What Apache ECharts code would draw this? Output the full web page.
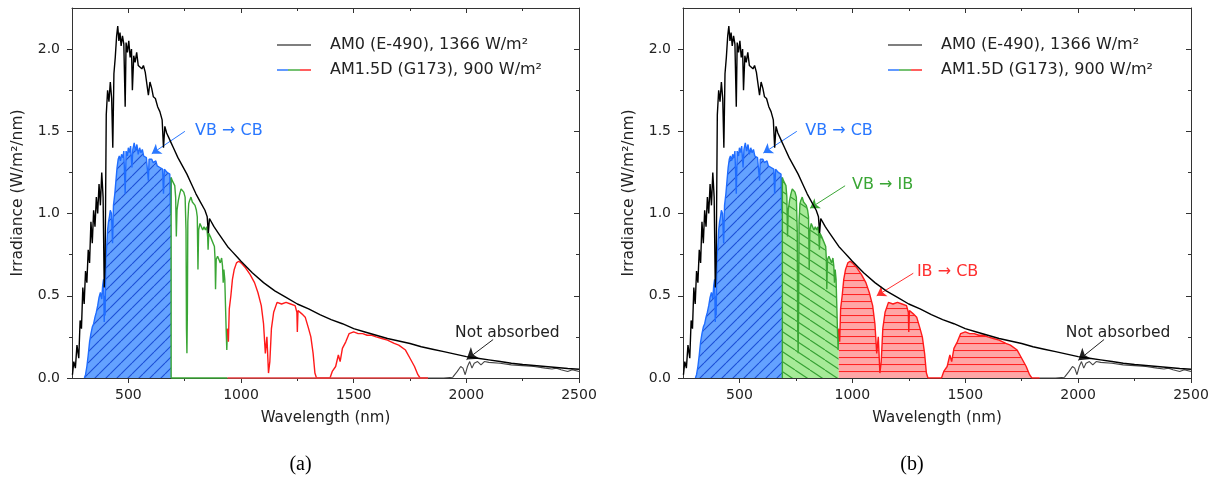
<!DOCTYPE html>
<html>
<head>
<meta charset="utf-8">
<script src="https://cdn.jsdelivr.net/npm/echarts@6/dist/echarts.min.js"></script>
<style>html,body{margin:0;padding:0;background:#fff;}#c{width:1222px;height:482px;}</style>
</head>
<body>
<div id="c"></div>
<script>
// ---- data (wavelength nm, irradiance W/m2/nm) ----
const am0 = [[252,0.02],[258,0.1],[265,0.06],[272,0.2],[280,0.12],[286,0.35],[292,0.3],[298,0.55],[304,0.45],[310,0.65],[316,0.58],[322,0.78],[328,0.7],[334,0.95],[340,0.82],[346,1.02],[352,0.92],[358,1.1],[364,1.0],[370,1.18],[376,1.05],[382,1.25],[388,1.1],[393,0.55],[397,0.7],[402,1.6],[408,1.75],[414,1.68],[420,1.8],[426,1.7],[431,1.4],[436,1.85],[442,1.95],[448,2.08],[453,2.14],[458,2.05],[463,2.1],[468,2.02],[474,2.08],[480,2.03],[486,1.65],[490,2.04],[496,1.98],[502,2.05],[508,1.95],[514,2.0],[518,1.75],[524,1.96],[530,1.92],[537,1.98],[544,1.9],[552,1.9],[560,1.88],[567,1.9],[575,1.86],[582,1.86],[589,1.72],[596,1.8],[604,1.76],[611,1.71],[620,1.7],[630,1.65],[640,1.62],[650,1.57],[656,1.4],[662,1.53],[670,1.49],[680,1.46],[690,1.43],[700,1.40],[720,1.34],[740,1.29],[760,1.24],[780,1.18],[800,1.12],[820,1.07],[840,1.02],[850,0.98],[855,0.88],[860,0.97],[880,0.92],[900,0.88],[920,0.84],[940,0.80],[960,0.77],[980,0.74],[1000,0.71],[1050,0.64],[1100,0.58],[1150,0.53],[1200,0.49],[1250,0.45],[1300,0.42],[1350,0.385],[1400,0.355],[1450,0.33],[1500,0.30],[1550,0.28],[1600,0.26],[1650,0.24],[1700,0.225],[1750,0.21],[1800,0.19],[1850,0.175],[1900,0.16],[1950,0.145],[2000,0.13],[2050,0.12],[2100,0.11],[2150,0.10],[2200,0.09],[2250,0.082],[2300,0.076],[2350,0.07],[2400,0.064],[2450,0.058],[2500,0.053]];

const am15Blue = [[305,0],[310,0.02],[316,0.07],[322,0.14],[328,0.22],[334,0.27],[340,0.31],[346,0.33],[352,0.37],[358,0.4],[364,0.44],[370,0.49],[376,0.52],[382,0.48],[386,0.56],[390,0.6],[393,0.34],[395,0.5],[397,0.38],[400,0.72],[404,0.8],[408,0.9],[412,0.95],[416,0.98],[420,1.02],[425,1.0],[430,0.82],[434,1.05],[440,1.12],[445,1.2],[450,1.28],[455,1.33],[460,1.35],[465,1.32],[470,1.36],[476,1.34],[480,1.38],[486,1.12],[490,1.38],[496,1.35],[500,1.40],[505,1.37],[510,1.41],[516,1.28],[520,1.39],[526,1.43],[532,1.38],[538,1.42],[544,1.36],[550,1.40],[556,1.37],[562,1.39],[568,1.35],[574,1.36],[580,1.34],[586,1.33],[589,1.2],[592,1.33],[598,1.32],[604,1.33],[610,1.31],[616,1.3],[622,1.32],[628,1.29],[634,1.3],[640,1.28],[646,1.29],[652,1.27],[656,1.12],[660,1.27],[666,1.26],[672,1.25],[678,1.26],[684,1.24],[687,1.0],[690,1.22]];

const am15Green = [[690,0],[690,1.22],[695,1.2],[700,1.21],[706,1.17],[710,1.1],[713,0.86],[716,1.02],[722,1.08],[728,1.12],[734,1.15],[740,1.14],[746,1.13],[752,1.1],[756,0.9],[758,0.3],[760,0.15],[762,0.4],[764,0.95],[768,1.06],[772,1.08],[778,1.1],[784,1.07],[790,1.06],[796,1.05],[802,1.02],[806,0.98],[809,0.66],[812,0.9],[818,0.94],[824,0.94],[830,0.9],[836,0.92],[842,0.9],[848,0.92],[852,0.86],[854,0.78],[857,0.88],[864,0.86],[870,0.84],[876,0.83],[882,0.8],[885,0.72],[887,0.54],[890,0.72],[896,0.74],[902,0.72],[908,0.7],[914,0.73],[918,0.68],[921,0.58],[924,0.66],[928,0.6],[931,0.45],[934,0.3],[937,0.17],[940,0.3]];

const am15Red = [[940,0.3],[944,0.22],[948,0.42],[955,0.5],[962,0.6],[970,0.66],[980,0.7],[990,0.71],[1000,0.7],[1020,0.67],[1040,0.63],[1060,0.58],[1075,0.52],[1090,0.44],[1100,0.33],[1108,0.15],[1115,0.25],[1122,0.03],[1128,0.1],[1135,0.3],[1145,0.4],[1160,0.46],[1180,0.45],[1200,0.46],[1220,0.45],[1240,0.44],[1248,0.4],[1250,0.28],[1253,0.41],[1270,0.39],[1285,0.37],[1300,0.3],[1310,0.25],[1320,0.15],[1328,0.03],[1335,0],[1395,0],[1405,0.04],[1420,0.07],[1432,0.14],[1440,0.1],[1450,0.18],[1465,0.22],[1480,0.27],[1500,0.28],[1520,0.27],[1540,0.27],[1560,0.26],[1580,0.26],[1600,0.25],[1625,0.24],[1650,0.23],[1680,0.21],[1700,0.2],[1730,0.17],[1750,0.12],[1770,0.07],[1785,0.02],[1795,0],[1830,0]];

const am15Rest = [[1830,0],[1900,0],[1940,0.005],[1960,0.04],[1975,0.07],[1985,0.06],[1995,0.02],[2005,0.07],[2015,0.1],[2025,0.06],[2035,0.09],[2050,0.1],[2065,0.08],[2080,0.1],[2100,0.095],[2150,0.09],[2200,0.08],[2250,0.075],[2300,0.07],[2350,0.06],[2380,0.055],[2400,0.06],[2420,0.05],[2450,0.04],[2470,0.05],[2500,0.04]];

const bandEdges = [690, 940, 1830];          // VB->CB | VB->IB | IB->CB limits
const wlMajor = [500, 1000, 1500, 2000, 2500];
const wlMinor = [750, 1250, 1750, 2250];
const irrMajor = [0, 0.5, 1.0, 1.5, 2.0];
const irrMinor = [0.25, 0.75, 1.25, 1.75];
const legendLabels = ['AM0 (E-490), 1366 W/m²', 'AM1.5D (G173), 900 W/m²'];
const panelCaptions = ['(a)', '(b)'];

const annotationsA = [
  {text: 'VB → CB', color: '#2a78ff', textAt: [946, 1.50], from: [751, 1.50], to: [604, 1.364]},
  {text: 'Not absorbed', color: '#222222', textAt: [2182, 0.271], from: [2119, 0.234], to: [2001, 0.112]}
];
const annotationsB = [
  {text: 'VB → CB', color: '#2a78ff', textAt: [941, 1.50], from: [754, 1.50], to: [606, 1.368]},
  {text: 'VB → IB', color: '#3aa635', textAt: [1134, 1.175], from: [968, 1.169], to: [813, 1.033]},
  {text: 'IB → CB', color: '#ff3030', textAt: [1422, 0.646], from: [1270, 0.637], to: [1108, 0.50]},
  {text: 'Not absorbed', color: '#222222', textAt: [2177, 0.271], from: [2115, 0.234], to: [2001, 0.108]}
];

// ---- styles ----
const FONT = 'DejaVu Sans';
const C_BLUE = '#1f6dff', C_GREEN = '#3aa635', C_RED = '#ff1a1a', C_AX = '#333333';

function makeTile(w, h, fill, stroke, draw) {
  const c = document.createElement('canvas');
  c.width = w; c.height = h;
  const ctx = c.getContext('2d');
  ctx.fillStyle = fill; ctx.fillRect(0, 0, w, h);
  ctx.strokeStyle = stroke; ctx.lineWidth = 1.1;
  ctx.beginPath(); draw(ctx, w, h); ctx.stroke();
  return c;
}
const blueTile = makeTile(11, 11, '#64a2ff', '#1c4fd6', (ctx, w, h) => {
  for (let k = -1; k <= 1; k++) { ctx.moveTo(k * w, h); ctx.lineTo(k * w + w, 0); }
});
const greenTile = makeTile(15, 10, '#a6ea98', '#35a033', (ctx, w, h) => {
  for (let k = -1; k <= 1; k++) { ctx.moveTo(k * w, 0); ctx.lineTo(k * w + w, h); }
});
const redTile = makeTile(8, 7, '#ffa6a6', '#ff2424', (ctx, w, h) => {
  ctx.moveTo(0, 0.5); ctx.lineTo(w, 0.5);
});

const grids = [
  {left: 72, top: 8, width: 507, height: 370},
  {left: 683, top: 8, width: 508, height: 370}
];

const xAxes = [], yAxes = [];
grids.forEach((g, gi) => {
  const base = {gridIndex: gi, type: 'value', min: 250, max: 2500, splitLine: {show: false}};
  xAxes.push(Object.assign({}, base, {
    position: 'bottom',
    axisLine: {show: true, onZero: false, lineStyle: {color: C_AX, width: 1}},
    axisTick: {show: true, inside: false, length: 5, customValues: wlMajor, lineStyle: {color: C_AX}},
    axisLabel: {show: true, customValues: wlMajor, margin: 10, fontSize: 14, fontFamily: FONT, color: '#222',
      formatter: v => String(Math.round(v))},
    name: 'Wavelength (nm)', nameLocation: 'middle', nameGap: 33,
    nameTextStyle: {fontSize: 15, fontFamily: FONT, color: '#222'}
  }));
  xAxes.push(Object.assign({}, base, {
    position: 'bottom', axisLine: {show: false, onZero: false},
    axisTick: {show: true, inside: false, length: 3, customValues: wlMinor, lineStyle: {color: C_AX}},
    axisLabel: {show: false}
  }));
  xAxes.push(Object.assign({}, base, {
    position: 'top', axisLine: {show: true, onZero: false, lineStyle: {color: C_AX, width: 1}},
    axisTick: {show: true, inside: true, length: 5, customValues: wlMajor, lineStyle: {color: C_AX}},
    axisLabel: {show: false}
  }));
  xAxes.push(Object.assign({}, base, {
    position: 'top', axisLine: {show: false, onZero: false},
    axisTick: {show: true, inside: true, length: 3, customValues: wlMinor, lineStyle: {color: C_AX}},
    axisLabel: {show: false}
  }));
  const ybase = {gridIndex: gi, type: 'value', min: 0, max: 2.25, splitLine: {show: false}};
  yAxes.push(Object.assign({}, ybase, {
    position: 'left',
    axisLine: {show: true, onZero: false, lineStyle: {color: C_AX, width: 1}},
    axisTick: {show: true, inside: false, length: 5, customValues: irrMajor, lineStyle: {color: C_AX}},
    axisLabel: {show: true, customValues: irrMajor, margin: 12, fontSize: 14, fontFamily: FONT, color: '#222',
      formatter: v => Number(v).toFixed(1)},
    name: 'Irradiance (W/m²/nm)', nameLocation: 'middle', nameGap: 46, nameRotate: 90,
    nameTextStyle: {fontSize: 15.5, fontFamily: FONT, color: '#222'}
  }));
  yAxes.push(Object.assign({}, ybase, {
    position: 'left', axisLine: {show: false, onZero: false},
    axisTick: {show: true, inside: false, length: 3, customValues: irrMinor, lineStyle: {color: C_AX}},
    axisLabel: {show: false}
  }));
  yAxes.push(Object.assign({}, ybase, {
    position: 'right', axisLine: {show: true, onZero: false, lineStyle: {color: C_AX, width: 1}},
    axisTick: {show: true, inside: true, length: 5, customValues: irrMajor, lineStyle: {color: C_AX}},
    axisLabel: {show: false}
  }));
  yAxes.push(Object.assign({}, ybase, {
    position: 'right', axisLine: {show: false, onZero: false},
    axisTick: {show: true, inside: true, length: 3, customValues: irrMinor, lineStyle: {color: C_AX}},
    axisLabel: {show: false}
  }));
});

function annMarkLine(anns, baselines) {
  const data = anns.map(a => [
    {coord: a.from, symbol: 'none', lineStyle: {color: a.color, width: 1, type: 'solid'}},
    {coord: a.to, symbol: 'arrow', symbolSize: a.text === 'Not absorbed' ? 11 : 9}
  ]);
  (baselines || []).forEach(b => data.push([
    {coord: [b.from, 0], symbol: 'none', lineStyle: {color: b.color, width: 1.5, type: 'solid'}},
    {coord: [b.to, 0], symbol: 'none'}
  ]));
  return {silent: true, animation: false, label: {show: false}, emphasis: {disabled: true}, data: data};
}
function annMarkPoint(anns) {
  return {silent: true, animation: false, data: anns.map(a => ({
    coord: a.textAt, symbol: 'rect', symbolSize: 1, itemStyle: {color: 'rgba(0,0,0,0)'},
    label: {show: true, position: 'inside', formatter: a.text, color: a.color,
      fontSize: a.text === 'Not absorbed' ? 15.5 : 16, fontFamily: FONT}
  }))};
}

const series = [];
[0, 1].forEach(gi => {
  const ax = {xAxisIndex: gi * 4, yAxisIndex: gi * 4};
  const filled = gi === 1;
  const line = (name, data, color, width, area, z, extra) => Object.assign({
    name: name, type: 'line', data: data, showSymbol: false, symbol: 'none', smooth: false,
    lineStyle: {color: color, width: width}, itemStyle: {color: color}, z: z, clip: true,
    areaStyle: area ? {color: {image: area, repeat: 'repeat'}, opacity: 1} : undefined,
    emphasis: {disabled: true}
  }, ax, extra || {});
  series.push(line('AM1.5D blue', am15Blue, C_BLUE, 1.4, blueTile, 2));
  series.push(line('AM1.5D green', am15Green, C_GREEN, 1.4, filled ? greenTile : null, 2,
    filled ? {} : {markLine: annMarkLine([], [{from: bandEdges[0], to: bandEdges[1], color: C_GREEN}, {from: bandEdges[1], to: bandEdges[2], color: '#e64040'}])}));
  series.push(line('AM1.5D red', am15Red, C_RED, 1.4, filled ? redTile : null, 2));
  series.push(line('AM1.5D rest', am15Rest, '#444444', 1.1, null, 3));
  const anns = gi === 0 ? annotationsA : annotationsB;
  series.push(line('AM0', am0, '#000000', 1.4, null, 5, {markLine: annMarkLine(anns), markPoint: annMarkPoint(anns)}));
});

const graphics = [];
grids.forEach((g, gi) => {
  const ox = g.left - 72;
  graphics.push({type: 'line', silent: true, shape: {x1: 277 + ox, y1: 45, x2: 311 + ox, y2: 45}, style: {stroke: '#000', lineWidth: 1.2}});
  graphics.push({type: 'line', silent: true, shape: {x1: 277 + ox, y1: 70, x2: 288 + ox, y2: 70}, style: {stroke: C_BLUE, lineWidth: 1.4}});
  graphics.push({type: 'line', silent: true, shape: {x1: 288 + ox, y1: 70, x2: 300 + ox, y2: 70}, style: {stroke: C_GREEN, lineWidth: 1.4}});
  graphics.push({type: 'line', silent: true, shape: {x1: 300 + ox, y1: 70, x2: 311 + ox, y2: 70}, style: {stroke: C_RED, lineWidth: 1.4}});
  graphics.push({type: 'text', silent: true, x: 330 + ox, y: 45, style: {text: legendLabels[0], fontSize: 16, fontFamily: FONT, fill: '#222', align: 'left', verticalAlign: 'middle'}});
  graphics.push({type: 'text', silent: true, x: 330 + ox, y: 70, style: {text: legendLabels[1], fontSize: 16, fontFamily: FONT, fill: '#222', align: 'left', verticalAlign: 'middle'}});
  graphics.push({type: 'text', silent: true, x: g.left + g.width / 2 - 25, y: 465, style: {text: panelCaptions[gi], fontSize: 20, fontFamily: 'Liberation Serif', fill: '#000', align: 'center', verticalAlign: 'middle'}});
});

const chart = echarts.init(document.getElementById('c'), null, {renderer: 'canvas'});
chart.setOption({
  animation: false,
  backgroundColor: '#ffffff',
  textStyle: {fontFamily: FONT},
  grid: grids,
  xAxis: xAxes,
  yAxis: yAxes,
  series: series,
  graphic: graphics
});
</script>
</body>
</html>
